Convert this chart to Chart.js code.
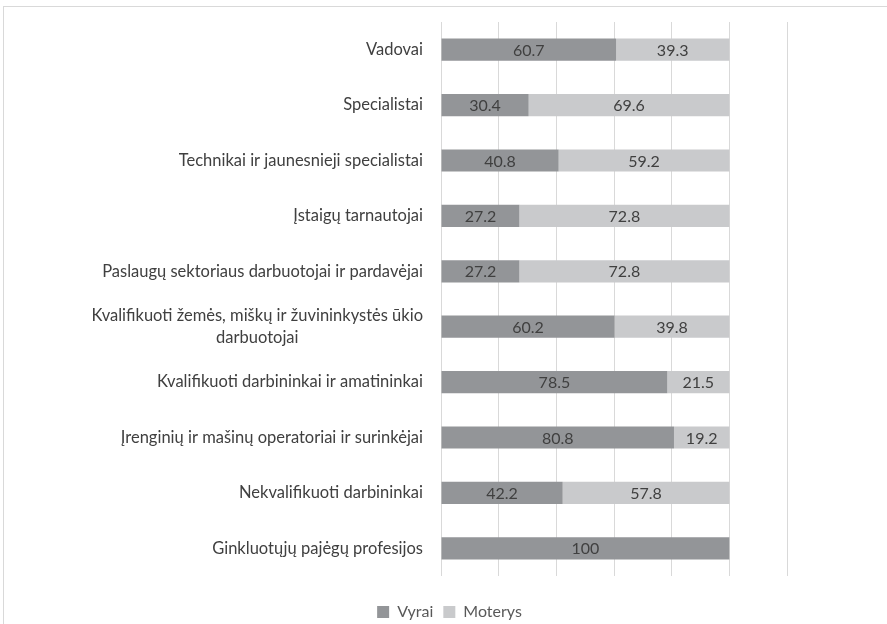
<!DOCTYPE html>
<html>
<head>
<meta charset="utf-8">
<script src="https://cdn.jsdelivr.net/npm/chart.js@4.4.0/dist/chart.umd.min.js"></script>
<style>
  html, body { margin: 0; padding: 0; background: #fff; }
  #frame { position: absolute; left: 3px; top: 6px; width: 900px; height: 700px; border: 1px solid #d9d9d9; box-sizing: border-box; }
  #wrap { position: absolute; left: 0; top: 0; width: 887px; height: 624px; }
</style>
</head>
<body>
<div id="frame"></div>
<div id="wrap"><canvas id="chart" width="887" height="624"></canvas></div>
<script>
// Occupation groups (top to bottom)
var categories = [
    'Vadovai',
    'Specialistai',
    'Technikai ir jaunesnieji specialistai',
    'Įstaigų tarnautojai',
    'Paslaugų sektoriaus darbuotojai ir pardavėjai',
    ['Kvalifikuoti žemės, miškų ir žuvininkystės ūkio', 'darbuotojai'],
    'Kvalifikuoti darbininkai ir amatininkai',
    'Įrenginių ir mašinų operatoriai ir surinkėjai',
    'Nekvalifikuoti darbininkai',
    'Ginkluotųjų pajėgų profesijos'
];
var vyrai = [60.7, 30.4, 40.8, 27.2, 27.2, 60.2, 78.5, 80.8, 42.2, 100];
var moterys = [39.3, 69.6, 59.2, 72.8, 72.8, 39.8, 21.5, 19.2, 57.8, null];
var xTicks = [0, 20, 40, 60, 80, 100, 120];

var fontFamily = 'Lato, "Open Sans", sans-serif';

// Draw value labels in the middle of each bar segment
var valueLabels = {
    id: 'valueLabels',
    afterDatasetsDraw: function(chart) {
        var ctx = chart.ctx;
        ctx.save();
        ctx.font = '16px ' + fontFamily;
        ctx.fillStyle = '#404040';
        ctx.textAlign = 'center';
        ctx.textBaseline = 'middle';
        chart.data.datasets.forEach(function(ds, i) {
            var meta = chart.getDatasetMeta(i);
            meta.data.forEach(function(bar, j) {
                var v = ds.data[j];
                if (v === null || v === undefined) return;
                var cx = (bar.x + bar.base) / 2;
                ctx.fillText(String(v), cx, bar.y + 1);
            });
        });
        ctx.restore();
    }
};

// Category labels: block right-aligned, lines centred on each other (like Excel)
var categoryLabels = {
    id: 'categoryLabels',
    afterDraw: function(chart) {
        var ctx = chart.ctx;
        var yScale = chart.scales.y;
        var right = yScale.right - 18;
        var lineH = 22;
        ctx.save();
        ctx.font = '16.5px ' + fontFamily;
        ctx.fillStyle = '#404040';
        ctx.textAlign = 'center';
        ctx.textBaseline = 'middle';
        categories.forEach(function(label, i) {
            var lines = Array.isArray(label) ? label : [label];
            var widest = 0;
            lines.forEach(function(l) { widest = Math.max(widest, ctx.measureText(l).width); });
            var cy = yScale.getPixelForTick(i);
            var y0 = cy - (lines.length - 1) * lineH / 2;
            lines.forEach(function(l, k) {
                ctx.fillText(l, right - widest / 2, y0 + k * lineH);
            });
        });
        ctx.restore();
    }
};

// Nudge the legend so it sits centred under the whole frame
var legendShift = {
    id: 'legendShift',
    afterLayout: function(chart) {
        var lg = chart.legend;
        lg.left += 56; lg.right += 56;
        lg.top += 18; lg.bottom += 18;
    }
};

new Chart(document.getElementById('chart').getContext('2d'), {
    type: 'bar',
    data: {
        labels: categories,
        datasets: [{
            label: 'Vyrai',
            data: vyrai,
            backgroundColor: '#939598',
            categoryPercentage: 1,
            barPercentage: 0.4
        }, {
            label: 'Moterys',
            data: moterys,
            backgroundColor: '#c9cacc',
            categoryPercentage: 1,
            barPercentage: 0.4
        }]
    },
    options: {
        indexAxis: 'y',
        responsive: false,
        animation: false,
        layout: { padding: { top: 22, right: 100, bottom: 12, left: 0 } },
        plugins: {
            legend: {
                position: 'bottom',
                labels: {
                    boxWidth: 12,
                    boxHeight: 12,
                    padding: 10,
                    color: '#595959',
                    font: { size: 16, family: fontFamily }
                }
            },
            tooltip: { enabled: false }
        },
        scales: {
            x: {
                stacked: true,
                min: 0,
                max: 120,
                afterBuildTicks: function(axis) {
                    axis.ticks = xTicks.map(function(v) { return { value: v }; });
                },
                ticks: { display: false },
                grid: { color: '#d9d9d9', drawTicks: false },
                border: { display: false }
            },
            y: {
                stacked: true,
                afterFit: function(axis) {
                    axis.width = 441;
                    axis.paddingTop = 0;
                    axis.paddingBottom = 0;
                },
                ticks: { display: false },
                grid: { display: false, drawTicks: false },
                border: { display: false }
            }
        }
    },
    plugins: [valueLabels, categoryLabels, legendShift]
});
</script>
</body>
</html>
